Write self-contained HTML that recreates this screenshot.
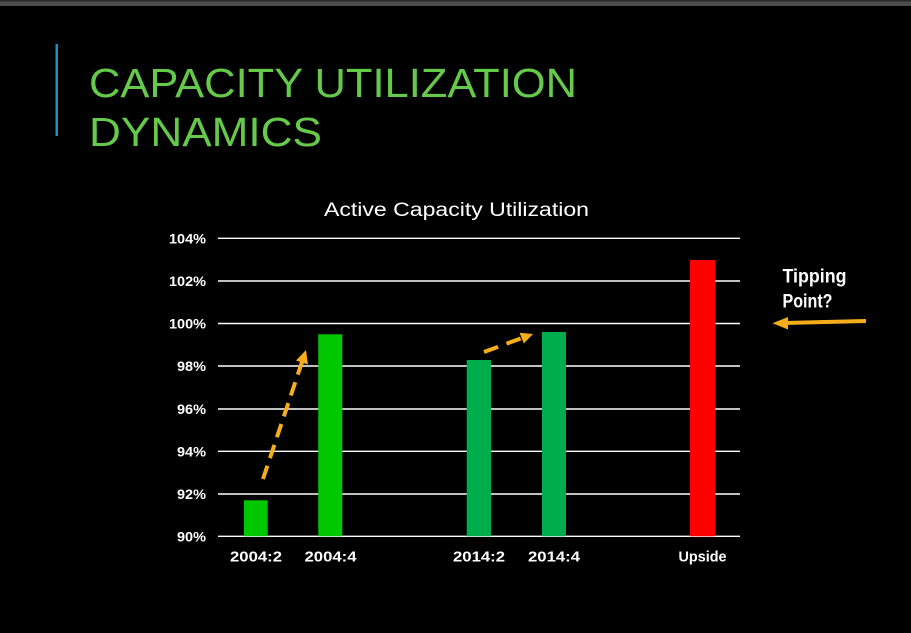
<!DOCTYPE html>
<html>
<head>
<meta charset="utf-8">
<style>
html,body{margin:0;padding:0;background:#000;}
body{width:911px;height:633px;overflow:hidden;}
svg{display:block;}
</style>
</head>
<body>
<svg width="911" height="633" viewBox="0 0 911 633" xmlns="http://www.w3.org/2000/svg">
  <rect x="0" y="0" width="911" height="633" fill="#000"/>
  <rect x="0" y="0" width="911" height="1.5" fill="#2a2a2a"/>
  <rect x="0" y="1.5" width="911" height="4.5" fill="#4d4d4d"/>

  <!-- title -->
  <rect x="55.5" y="44" width="2.5" height="92" fill="#1d8fc0"/>
  <g font-family="Liberation Sans, sans-serif" fill="#65c94a" font-size="41">
    <text x="89" y="97" textLength="488" lengthAdjust="spacingAndGlyphs">CAPACITY UTILIZATION</text>
    <text x="89" y="146" textLength="233" lengthAdjust="spacingAndGlyphs">DYNAMICS</text>
  </g>

  <!-- chart title -->
  <text x="324" y="216" font-family="Liberation Sans, sans-serif" font-size="19" fill="#fff" textLength="265" lengthAdjust="spacingAndGlyphs">Active Capacity Utilization</text>

  <!-- gridlines -->
  <g stroke="#fff" stroke-width="1.4">
    <line x1="218" y1="238.3" x2="740" y2="238.3"/>
    <line x1="218" y1="281" x2="740" y2="281"/>
    <line x1="218" y1="323.5" x2="740" y2="323.5"/>
    <line x1="218" y1="366" x2="740" y2="366"/>
    <line x1="218" y1="409" x2="740" y2="409"/>
    <line x1="218" y1="451.3" x2="740" y2="451.3"/>
    <line x1="218" y1="494" x2="740" y2="494"/>
    <line x1="218" y1="536.3" x2="740" y2="536.3"/>
  </g>

  <!-- y labels -->
  <g font-family="Liberation Sans, sans-serif" font-size="14" font-weight="bold" fill="#fff" text-anchor="end">
    <text x="206" y="243.3" textLength="37" lengthAdjust="spacingAndGlyphs">104%</text>
    <text x="206" y="286" textLength="37" lengthAdjust="spacingAndGlyphs">102%</text>
    <text x="206" y="328.5" textLength="37" lengthAdjust="spacingAndGlyphs">100%</text>
    <text x="206" y="371" textLength="29" lengthAdjust="spacingAndGlyphs">98%</text>
    <text x="206" y="414" textLength="29" lengthAdjust="spacingAndGlyphs">96%</text>
    <text x="206" y="456.3" textLength="29" lengthAdjust="spacingAndGlyphs">94%</text>
    <text x="206" y="499" textLength="29" lengthAdjust="spacingAndGlyphs">92%</text>
    <text x="206" y="541.3" textLength="29" lengthAdjust="spacingAndGlyphs">90%</text>
  </g>

  <!-- bars -->
  <rect x="244" y="500.3" width="23.7" height="36" fill="#00c800"/>
  <rect x="318.3" y="334.3" width="24" height="202" fill="#00c800"/>
  <rect x="466.7" y="360" width="24.3" height="176.3" fill="#00ad4c"/>
  <rect x="542" y="332" width="24" height="204.3" fill="#00ad4c"/>
  <rect x="690" y="260" width="25" height="276.3" fill="#ff0000"/>

  <!-- x labels -->
  <g font-family="Liberation Sans, sans-serif" font-size="15" font-weight="bold" fill="#fff" text-anchor="middle">
    <text x="256" y="561.5" textLength="52" lengthAdjust="spacingAndGlyphs">2004:2</text>
    <text x="330.5" y="561.5" textLength="52" lengthAdjust="spacingAndGlyphs">2004:4</text>
    <text x="479" y="561.5" textLength="52" lengthAdjust="spacingAndGlyphs">2014:2</text>
    <text x="554" y="561.5" textLength="52" lengthAdjust="spacingAndGlyphs">2014:4</text>
    <text x="702.5" y="561.5" textLength="48" lengthAdjust="spacingAndGlyphs">Upside</text>
  </g>

  <!-- dashed arrows -->
  <g stroke="#f5ad1b" stroke-width="4" fill="none">
    <line x1="263" y1="479" x2="302" y2="362" stroke-dasharray="14 8"/>
    <line x1="484" y1="352" x2="522" y2="338" stroke-dasharray="15 9"/>
    <line x1="866" y1="321" x2="784" y2="323"/>
  </g>
  <g fill="#f5ad1b">
    <polygon points="306,350 308,364.5 296,360.5"/>
    <polygon points="533,334 523.8,343.5 519.6,332.7"/>
    <polygon points="772.5,323.3 788,317 788,329.5"/>
  </g>

  <!-- tipping point -->
  <g font-family="Liberation Sans, sans-serif" font-size="19" font-weight="bold" fill="#fff">
    <text x="782.5" y="282.3" textLength="64" lengthAdjust="spacingAndGlyphs">Tipping</text>
    <text x="782.5" y="307.7" textLength="50" lengthAdjust="spacingAndGlyphs">Point?</text>
  </g>
</svg>
</body>
</html>
